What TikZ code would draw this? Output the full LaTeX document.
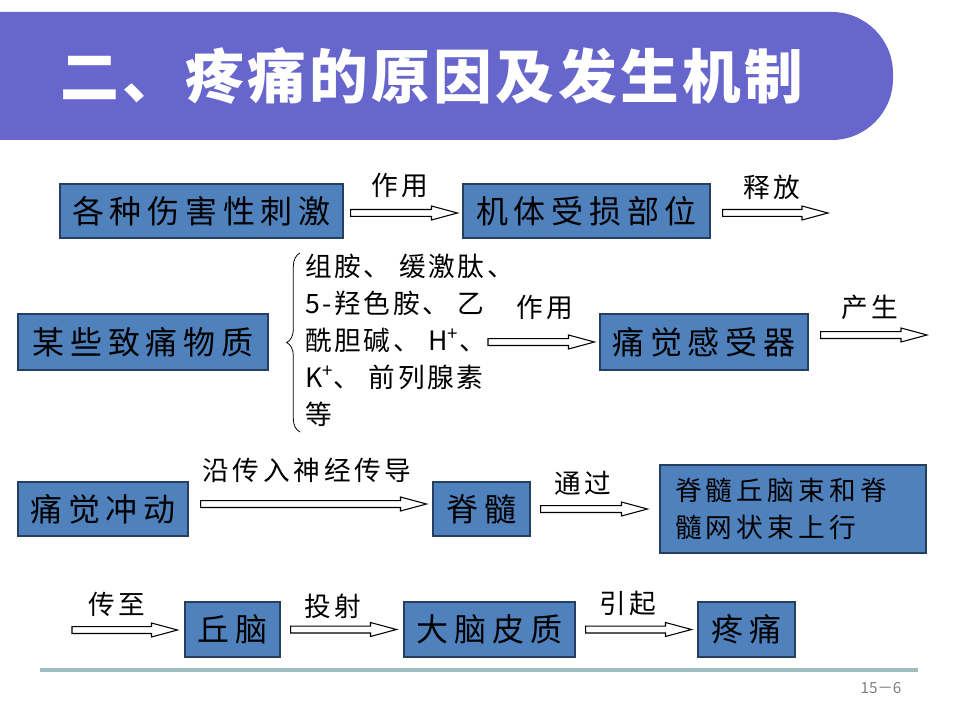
\documentclass[tikz,border=0pt]{standalone}
\usepackage{fontspec}
\setmainfont{Noto Sans CJK SC}
\newfontfamily\cjk{Noto Sans CJK SC}
\usetikzlibrary{calc,decorations.pathreplacing}
\definecolor{titlebar}{HTML}{6666CC}
\definecolor{boxfill}{HTML}{4F81BD}
\definecolor{boxline}{HTML}{243F60}
\definecolor{rulecol}{HTML}{9FBDBE}
\newcommand{\boxfont}{\cjk\fontsize{24pt}{28pt}\selectfont\addfontfeatures{LetterSpace=18}}
\newcommand{\smallboxfont}{\cjk\fontsize{20pt}{27.75pt}\selectfont\addfontfeatures{LetterSpace=16}}
\newcommand{\lblfont}{\cjk\fontsize{20pt}{24pt}\selectfont\addfontfeatures{LetterSpace=14}}
\newcommand{\subsfont}{\cjk\fontsize{20pt}{27.75pt}\selectfont\addfontfeatures{LetterSpace=10}}
\newcommand{\harrow}[2]{\path[harrowline] let \p1=(#1), \p2=(#2) in
  (\x1,\y1+2.6pt) -- (\x2-19.5pt,\y1+2.6pt) -- (\x2-19.5pt,\y1+5.25pt) -- (\x2,\y1)
  -- (\x2-19.5pt,\y1-5.25pt) -- (\x2-19.5pt,\y1-2.6pt) -- (\x1,\y1-2.6pt) -- cycle;}
\begin{document}
\begin{tikzpicture}[x=0.75pt,y=-0.75pt,
  box/.style={draw=boxline, line width=0.8pt, fill=boxfill, inner sep=0pt, font=\boxfont, text=black},
  lbl/.style={font=\lblfont, inner sep=0pt, text=black},
  harrowline/.style={draw=black, fill=white, line width=0.8pt}]
\useasboundingbox (0,0) rectangle (960,720);
\fill[white] (0,0) rectangle (960,720);
% title bar
\fill[titlebar] (0,12) [rounded corners=46pt] -- (893,12) -- (893,140) [sharp corners] -- (0,140) -- cycle;
\node[text=white, inner sep=0pt, font=\cjk\bfseries\fontsize{44pt}{48pt}\selectfont\addfontfeatures{LetterSpace=6}] (title) at (432,76) {二、疼痛的原因及发生机制};
% row 1
\node[box, minimum width=212.25pt, minimum height=40.5pt] (b1) at (201.5,211) {各种伤害性刺激};
\node[box, minimum width=185.25pt, minimum height=40.5pt] (b2) at (586.5,211) {机体受损部位};
\coordinate (a1s) at ($(b1.east)+(7,2)$);
\coordinate (a1e) at ($(b2.west)+(-5,2)$);
\harrow{a1s}{a1e}
\node[lbl] (l1) at (400,185) {作用};
\coordinate (a2s) at ($(b2.east)+(12,2)$);
\coordinate (a2e) at (828,213);
\harrow{a2s}{a2e}
\node[lbl] (l2) at (772,187) {释放};
% row 2
\node[box, minimum width=187.5pt, minimum height=42pt] (b3) at (143,342) {某些致痛物质};
\coordinate (brb) at (300,432);
\coordinate (brt) at (300,253);
\draw[line width=0.6pt, decorate, decoration={brace, amplitude=10pt}] (brb) -- (brt);
\node[anchor=west, align=left, inner sep=0pt, font=\subsfont] (subs) at (305,340)
  {组胺、 缓激肽、\\5-羟色胺、 乙\\酰胆碱、 H\textsuperscript{+}、\\K\textsuperscript{+}、 前列腺素\\等};
\node[box, minimum width=156pt, minimum height=42pt] (b4) at (704,342) {痛觉感受器};
\coordinate (a3s) at (488,342);
\coordinate (a3e) at ($(b4.west)+(-5,0)$);
\harrow{a3s}{a3e}
\node[lbl] (l3) at (545,307) {作用};
\coordinate (a4s) at ($(b4.east)+(12,-7)$);
\coordinate (a4e) at (927,335);
\harrow{a4s}{a4e}
\node[lbl] (l4) at (870,307) {产生};
% row 3
\node[box, minimum width=127.5pt, minimum height=40.5pt] (b5) at (103,509) {痛觉冲动};
\node[box, minimum width=72.75pt, minimum height=40.5pt] (b6) at (481.5,509) {脊髓};
\node[box, minimum width=199.5pt, minimum height=66pt, text width=177pt, align=left, font=\smallboxfont] (b7) at (793,509) {脊髓丘脑束和脊\\髓网状束上行};
\coordinate (a5s) at ($(b5.east)+(12,-5)$);
\coordinate (a5e) at ($(b6.west)+(-6,-5)$);
\harrow{a5s}{a5e}
\node[lbl] (l5) at (307,470) {沿传入神经传导};
\coordinate (a6s) at ($(b6.east)+(10,0)$);
\coordinate (a6e) at ($(b7.west)+(-12,0)$);
\harrow{a6s}{a6e}
\node[lbl] (l6) at (583,483) {通过};
% row 4
\node[box, minimum width=71.25pt, minimum height=41.25pt] (b8) at (232.5,629.5) {丘脑};
\node[box, minimum width=128.25pt, minimum height=41.25pt] (b9) at (489.5,629.5) {大脑皮质};
\node[box, minimum width=72.75pt, minimum height=41.25pt] (b10) at (746.5,629.5) {疼痛};
\coordinate (a7s) at (72,630);
\coordinate (a7e) at ($(b8.west)+(-7,0)$);
\harrow{a7s}{a7e}
\node[lbl] (l7) at (117,604) {传至};
\coordinate (a8s) at ($(b8.east)+(10,0)$);
\coordinate (a8e) at ($(b9.west)+(-7,0)$);
\harrow{a8s}{a8e}
\node[lbl] (l8) at (333,606) {投射};
\coordinate (a9s) at ($(b9.east)+(10,0)$);
\coordinate (a9e) at ($(b10.west)+(-6,0)$);
\harrow{a9s}{a9e}
\node[lbl] (l9) at (628,603) {引起};
% footer
\coordinate (rl) at (40,670);
\coordinate (rr) at (918,670);
\draw[rulecol, line width=2.5pt] (rl) -- (rr);
\node[text=gray, inner sep=0pt, font=\cjk\fontsize{11.5pt}{13pt}\selectfont] (pg) at (881,688) {15－6};
\end{tikzpicture}
\end{document}
